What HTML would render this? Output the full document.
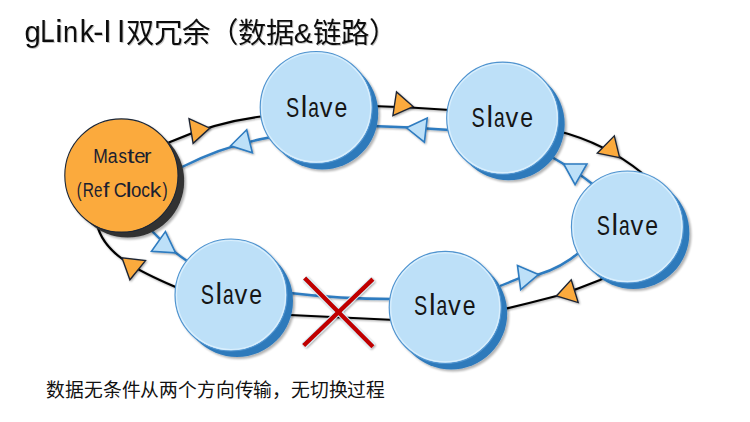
<!DOCTYPE html>
<html lang="zh-CN"><head><meta charset="utf-8">
<style>
html,body{margin:0;padding:0;background:#fff;width:750px;height:422px;overflow:hidden}
svg{display:block;font-family:"Liberation Sans",sans-serif}
</style></head><body>
<svg width="750" height="422" viewBox="0 0 750 422">
<defs>
<filter id="ls" x="-20%" y="-20%" width="140%" height="140%"><feGaussianBlur in="SourceAlpha" stdDeviation="0.8"/><feOffset dx="1.2" dy="1.2"/><feComponentTransfer><feFuncA type="linear" slope="0.35"/></feComponentTransfer><feMerge><feMergeNode/><feMergeNode in="SourceGraphic"/></feMerge></filter>
<filter id="cs" x="-20%" y="-20%" width="140%" height="140%"><feGaussianBlur in="SourceAlpha" stdDeviation="1.2"/><feOffset dx="1.5" dy="1.5"/><feComponentTransfer><feFuncA type="linear" slope="0.3"/></feComponentTransfer><feMerge><feMergeNode/><feMergeNode in="SourceGraphic"/></feMerge></filter>
<filter id="ts" x="-10%" y="-30%" width="120%" height="160%"><feGaussianBlur in="SourceAlpha" stdDeviation="0.6"/><feOffset dx="1.4" dy="1.4"/><feComponentTransfer><feFuncA type="linear" slope="0.22"/></feComponentTransfer><feMerge><feMergeNode/><feMergeNode in="SourceGraphic"/></feMerge></filter>
</defs>
<!-- title -->
<g fill="#111" filter="url(#ts)">
<text transform="translate(24.47,42.00) scale(0.978,0.980)" font-size="30">g</text><text transform="translate(40.28,42.00) scale(0.862,1.045)" font-size="30">L</text><text transform="translate(54.94,42.00) scale(1.176,1.020)" font-size="30">i</text><text transform="translate(62.90,42.00) scale(0.902,0.975)" font-size="30">n</text><text transform="translate(79.66,42.00) scale(0.960,1.030)" font-size="30">k</text><text transform="translate(93.14,42.00) scale(1.024,1.000)" font-size="30">-</text><text transform="translate(103.33,42.00) scale(1.001,1.045)" font-size="30">I</text><text transform="translate(117.03,42.00) scale(1.001,1.045)" font-size="30">I</text>
<text x="125.7" y="42.8" font-size="28.4">双冗余（数据&amp;链路）</text>
</g>
<!-- black ring -->
<g fill="none" stroke="#000" stroke-width="2.2" filter="url(#ls)">
<path d="M162,146 L170,142 Q215,122 265,116"/>
<path d="M372,106 Q410,107 450,110"/>
<path d="M558,131 Q605,143 642,173"/>
<path d="M612,273 L600,280 Q578,289 556.4,296 Q530,303 500,310"/>
<path d="M395,320 L290,315"/>
<path d="M180,289 C150,276 104,258 97,224"/>
</g>
<!-- blue ring -->
<g fill="none" stroke="#2e7bc0" stroke-width="2.4" filter="url(#ls)">
<path d="M175,171 L182,167 Q225,145 272,137"/>
<path d="M372,126 Q410,127 450,130"/>
<path d="M550,156 Q575,170 595,186"/>
<path d="M500,286 L520,278 L538.4,274.5 Q561,268 581,251"/>
<path d="M290,293 Q340,299 392,299"/>
<path d="M150,229 Q170,250 190,263"/>
</g>
<!-- orange arrows -->
<g fill="#fbaa3e" stroke="#1c2433" stroke-width="1.35" stroke-linejoin="miter" filter="url(#ls)">
<polygon points="189,118.7 193.1,143.3 209.8,128.1"/>
<polygon points="396.5,91.9 392.9,115.7 413.1,106.5"/>
<polygon points="614.3,135.9 597.3,153.2 619.6,157.6"/>
<polygon points="571.2,279.8 578.2,302.6 556.4,296"/>
<polygon points="145.5,260.6 129.9,279.8 122,257.8"/>
</g>
<!-- blue arrows -->
<g fill="#bde0f8" stroke="#2e7bc0" stroke-width="1.6" stroke-linejoin="miter" filter="url(#ls)">
<polygon points="246.7,129.7 252.4,152.8 230.6,145.8"/>
<polygon points="427.2,118.1 424.4,142.2 406.5,127.8"/>
<polygon points="586.9,164 575.1,184.6 563.7,164"/>
<polygon points="517.5,265.6 520.7,289.7 538.4,274.5"/>
<polygon points="165.4,231.6 151.5,251.2 175.6,252.9"/>
</g>
<!-- circles -->
<g filter="url(#cs)">
<circle cx="127.6" cy="181" r="56.6" fill="#333"/>
<circle cx="121.4" cy="175.5" r="56.6" fill="#fbaa3e" stroke="#1b2636" stroke-width="1.1"/>
</g>

<g filter="url(#cs)">
<circle cx="322.2" cy="113.5" r="56" fill="#2f7abb"/>
<circle cx="316.2" cy="107.5" r="56" fill="#bde0f8" stroke="#4f93cf" stroke-width="1.15"/>
<circle cx="316.2" cy="107.5" r="54.5" fill="none" stroke="#daeffd" stroke-width="1.2"/>
</g>
<g filter="url(#cs)">
<circle cx="508.7" cy="124.2" r="56" fill="#2f7abb"/>
<circle cx="502.7" cy="118.2" r="56" fill="#bde0f8" stroke="#4f93cf" stroke-width="1.15"/>
<circle cx="502.7" cy="118.2" r="54.5" fill="none" stroke="#daeffd" stroke-width="1.2"/>
</g>
<g filter="url(#cs)">
<circle cx="633.4" cy="233" r="56" fill="#2f7abb"/>
<circle cx="627.4" cy="227" r="56" fill="#bde0f8" stroke="#4f93cf" stroke-width="1.15"/>
<circle cx="627.4" cy="227" r="54.5" fill="none" stroke="#daeffd" stroke-width="1.2"/>
</g>
<g filter="url(#cs)">
<circle cx="451.2" cy="313.4" r="56" fill="#2f7abb"/>
<circle cx="445.2" cy="307.4" r="56" fill="#bde0f8" stroke="#4f93cf" stroke-width="1.15"/>
<circle cx="445.2" cy="307.4" r="54.5" fill="none" stroke="#daeffd" stroke-width="1.2"/>
</g>
<g filter="url(#cs)">
<circle cx="237" cy="301" r="56" fill="#2f7abb"/>
<circle cx="231" cy="295" r="56" fill="#bde0f8" stroke="#4f93cf" stroke-width="1.15"/>
<circle cx="231" cy="295" r="54.5" fill="none" stroke="#daeffd" stroke-width="1.2"/>
</g>
<!-- labels -->
<g fill="#161616"><text transform="translate(285.90,116.80) scale(0.733,1.000)" font-size="27">S</text><text transform="translate(300.81,116.80) scale(1.096,1.090)" font-size="27">l</text><text transform="translate(308.18,116.80) scale(0.714,1.000)" font-size="27">a</text><text transform="translate(319.71,116.80) scale(0.946,1.000)" font-size="27">v</text><text transform="translate(334.52,116.80) scale(0.852,1.000)" font-size="27">e</text><text transform="translate(471.60,126.80) scale(0.733,1.000)" font-size="27">S</text><text transform="translate(486.51,126.80) scale(1.096,1.090)" font-size="27">l</text><text transform="translate(493.88,126.80) scale(0.714,1.000)" font-size="27">a</text><text transform="translate(505.41,126.80) scale(0.946,1.000)" font-size="27">v</text><text transform="translate(520.22,126.80) scale(0.852,1.000)" font-size="27">e</text><text transform="translate(596.70,235.10) scale(0.733,1.000)" font-size="27">S</text><text transform="translate(611.61,235.10) scale(1.096,1.090)" font-size="27">l</text><text transform="translate(618.98,235.10) scale(0.714,1.000)" font-size="27">a</text><text transform="translate(630.51,235.10) scale(0.946,1.000)" font-size="27">v</text><text transform="translate(645.32,235.10) scale(0.852,1.000)" font-size="27">e</text><text transform="translate(414.10,315.10) scale(0.733,1.000)" font-size="27">S</text><text transform="translate(429.01,315.10) scale(1.096,1.090)" font-size="27">l</text><text transform="translate(436.38,315.10) scale(0.714,1.000)" font-size="27">a</text><text transform="translate(447.91,315.10) scale(0.946,1.000)" font-size="27">v</text><text transform="translate(462.72,315.10) scale(0.852,1.000)" font-size="27">e</text><text transform="translate(200.70,303.70) scale(0.733,1.000)" font-size="27">S</text><text transform="translate(215.61,303.70) scale(1.096,1.090)" font-size="27">l</text><text transform="translate(222.98,303.70) scale(0.714,1.000)" font-size="27">a</text><text transform="translate(234.51,303.70) scale(0.946,1.000)" font-size="27">v</text><text transform="translate(249.32,303.70) scale(0.852,1.000)" font-size="27">e</text></g>
<g fill="#1a2130"><text transform="translate(93.37,163.20) scale(0.897,1.000)" font-size="19.5">M</text><text transform="translate(107.85,163.20) scale(0.908,1.000)" font-size="19.5">a</text><text transform="translate(118.53,163.20) scale(0.870,1.000)" font-size="19.5">s</text><text transform="translate(126.89,163.20) scale(1.386,1.000)" font-size="19.5">t</text><text transform="translate(134.24,163.20) scale(1.038,1.000)" font-size="19.5">e</text><text transform="translate(144.01,163.20) scale(1.149,1.000)" font-size="19.5">r</text><text transform="translate(76.81,196.70) scale(0.735,1.000)" font-size="19.5">(</text><text transform="translate(82.73,196.70) scale(0.795,1.000)" font-size="19.5">R</text><text transform="translate(93.96,196.70) scale(0.776,1.000)" font-size="19.5">e</text><text transform="translate(103.07,196.70) scale(1.180,1.000)" font-size="19.5">f</text><text transform="translate(113.69,196.70) scale(0.923,1.000)" font-size="19.5">C</text><text transform="translate(125.58,196.70) scale(1.459,1.000)" font-size="19.5">l</text><text transform="translate(131.12,196.70) scale(0.956,1.000)" font-size="19.5">o</text><text transform="translate(141.16,196.70) scale(0.892,1.000)" font-size="19.5">c</text><text transform="translate(149.75,196.70) scale(1.181,1.000)" font-size="19.5">k</text><text transform="translate(162.51,196.70) scale(0.793,1.000)" font-size="19.5">)</text></g>
<!-- red X -->
<g filter="url(#ls)">
<g stroke="#d6f2fc" stroke-width="6.2" stroke-linecap="butt">
<line x1="304.6" y1="278" x2="372.9" y2="346.8"/>
<line x1="372.9" y1="279.1" x2="303.7" y2="345.5"/>
</g>
<g stroke="#c00000" stroke-width="4.3" stroke-linecap="butt">
<line x1="304.6" y1="278" x2="372.9" y2="346.8"/>
<line x1="372.9" y1="279.1" x2="303.7" y2="345.5"/>
</g>
</g>
<text x="46.3" y="396.8" font-size="18.8" textLength="339" lengthAdjust="spacing" fill="#111">数据无条件从两个方向传输，无切换过程</text>
</svg>
</body></html>
